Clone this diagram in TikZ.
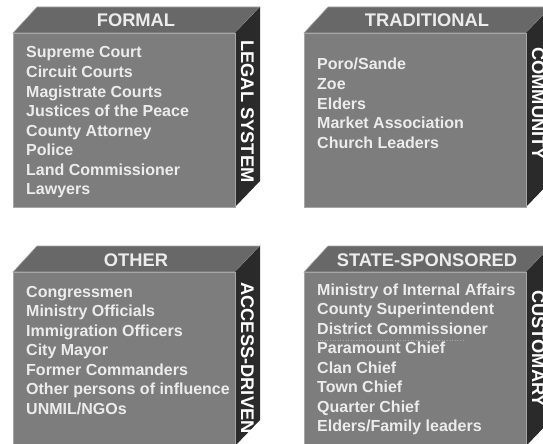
\documentclass[tikz,border=0pt]{standalone}
\usepackage{fontspec}
\setmainfont{Liberation Sans}
\definecolor{TopClr}{HTML}{686868}
\definecolor{FrontClr}{HTML}{7D7D7D}
\definecolor{SideClr}{HTML}{2A2A2A}
\definecolor{EdgeClr}{HTML}{A6A6A6}
\definecolor{TextClr}{HTML}{ECECEC}

\begin{document}
\begin{tikzpicture}[x=1pt,y=-1pt,
  title/.style={anchor=base,inner sep=0,text=TextClr,font=\fontsize{18.3}{19}\selectfont\bfseries},
  item/.style={anchor=base west,inner sep=0,text=TextClr,font=\fontsize{16}{17}\selectfont\bfseries},
  side/.style={anchor=west,rotate=-90,inner sep=0,text=white,font=\fontsize{18.3}{19}\selectfont\bfseries}]
\useasboundingbox (0,0) rectangle (543,444);
\clip (0,0) rectangle (543,444);

% one box: name/left/top/title/side label/label start/first line/items
\foreach \n/\bx/\by/\ttl/\lbl/\ly/\iy/\items in {
  formal/13/33/FORMAL/{LEGAL SYSTEM}/7/25/{Supreme Court,Circuit Courts,Magistrate Courts,Justices of the Peace,County Attorney,Police,Land Commissioner,Lawyers},
  trad/304/33/TRADITIONAL/COMMUNITY/14/37/{Poro/Sande,Zoe,Elders,Market Association,Church Leaders},
  other/13/272/OTHER/ACCESS-DRIVEN/10/25/{Congressmen,Ministry Officials,Immigration Officers,City Mayor,Former Commanders,Other persons of influence,UNMIL/NGOs},
  state/304/272/STATE-SPONSORED/CUSTOMARY/18/23/{Ministry of Internal Affairs,County Superintendent,District Commissioner,Paramount Chief,Clan Chief,Town Chief,Quarter Chief,Elders/Family leaders}}{
  \filldraw[fill=TopClr,draw=EdgeClr,line width=.6pt] (\bx,\by) -- ++(222,0) -- ++(25,-26) -- ++(-223,0) -- cycle;
  \fill[SideClr] (\bx+222,\by) -- ++(25,-26) -- ++(0,174) -- ++(-25,26) -- cycle;
  \filldraw[fill=FrontClr,draw=EdgeClr,line width=.8pt] (\bx,\by) rectangle ++(222,174);
  \node[title] (\n-title) at (\bx+123,\by-6) {\ttl};
  \node[side] (\n-side) at (\bx+234.5,\by+\ly) {\lbl};
  \foreach \it [count=\i] in \items
    \node[item] (\n-\i) at (\bx+13,\by+\iy+\i*19.5-19.5) {\it};
}

\draw[EdgeClr,dotted,line width=.6pt] ([yshift=-6pt]state-3.base west) -- ++(147,0);

\end{tikzpicture}
\end{document}
